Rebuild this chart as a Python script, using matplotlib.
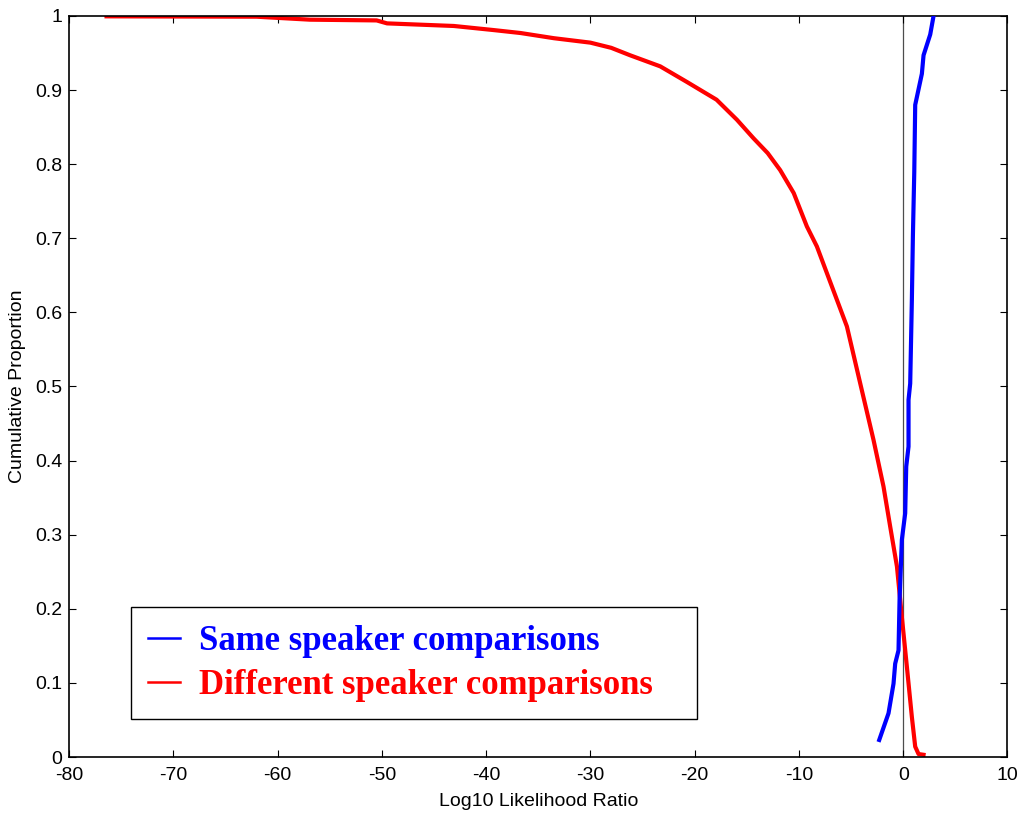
import matplotlib
matplotlib.use('Agg')
import matplotlib.pyplot as plt
from matplotlib.lines import Line2D

plt.rcParams['font.family'] = 'Liberation Sans'
plt.rcParams['axes.unicode_minus'] = False

# Same speaker comparisons
same_llr = [-2.30, -1.41, -0.93, -0.77, -0.45, -0.35, -0.13, 0.19, 0.29, 0.51,
            0.51, 0.67, 0.83, 0.93, 1.06, 1.15, 1.47, 1.79, 1.95, 2.59, 2.91]
same_cum = [0.023, 0.059, 0.099, 0.126, 0.144, 0.212, 0.293, 0.329, 0.392, 0.419,
            0.482, 0.504, 0.617, 0.704, 0.789, 0.880, 0.901, 0.922, 0.947, 0.975, 1.0]

# Different speaker comparisons
diff_llr = [-76.4, -62.0, -56.9, -50.5, -49.5, -43.1, -39.3, -36.7, -33.5, -30.0,
            -28.0, -26.2, -23.3, -20.75, -17.9, -15.95, -14.36, -13.0, -11.8, -10.5,
            -9.24, -8.28, -7.32, -6.36, -5.4, -4.12, -2.85, -1.89, -1.25, -0.60,
            -0.13, 0.35, 0.83, 1.15, 1.47, 1.95]
diff_cum = [0.9995, 0.999, 0.995, 0.994, 0.990, 0.9865, 0.981, 0.977, 0.970, 0.964,
            0.957, 0.947, 0.932, 0.911, 0.887, 0.860, 0.835, 0.815, 0.792, 0.761,
            0.716, 0.689, 0.653, 0.617, 0.581, 0.504, 0.428, 0.365, 0.311, 0.257,
            0.189, 0.122, 0.054, 0.014, 0.004, 0.003]

x_ticks = list(range(-80, 11, 10))
y_ticks = [i / 10 for i in range(11)]
y_labels = ['0', '0.1', '0.2', '0.3', '0.4', '0.5', '0.6', '0.7', '0.8', '0.9', '1']

fig = plt.figure(figsize=(10.27, 8.19), dpi=100)
ax = fig.add_axes([0.0672, 0.0757, 0.9138, 0.9048])

ax.axvline(0, color='0.3', lw=0.9, zorder=1)
ax.plot(same_llr, same_cum, color='blue', lw=3.0, zorder=3)
ax.plot(diff_llr, diff_cum, color='red', lw=3.0, zorder=2)

ax.set_xlim(-80, 10)
ax.set_ylim(0, 1)
ax.set_xticks(x_ticks)
ax.set_yticks(y_ticks)
ax.set_yticklabels(y_labels)
ax.tick_params(direction='in', top=True, right=True, length=5, width=0.8,
               labelsize=14)
ax.tick_params(axis='x', pad=7)
ax.tick_params(axis='y', pad=5)
for s in ax.spines.values():
    s.set_linewidth(1.2)

ax.set_xlabel('Log10 Likelihood Ratio', fontsize=14, labelpad=7)
ax.set_ylabel('Cumulative Proportion', fontsize=14, labelpad=6)

handles = [Line2D([], [], color='blue', lw=1.8), Line2D([], [], color='red', lw=1.8)]
leg = ax.legend(handles, ['Same speaker comparisons', 'Different speaker comparisons'],
                loc='lower left', bbox_to_anchor=(0.066, 0.051, 0.603, 0.157),
                mode='expand', fancybox=False, edgecolor='black', framealpha=1,
                prop={'family': 'Liberation Serif', 'weight': 'bold', 'size': 25},
                labelcolor=['blue', 'red'], handlelength=0.9, handletextpad=0.55,
                borderpad=0.5, labelspacing=0.32, borderaxespad=0)
leg.get_frame().set_linewidth(1.0)

fig.savefig('out.png', dpi=100)
